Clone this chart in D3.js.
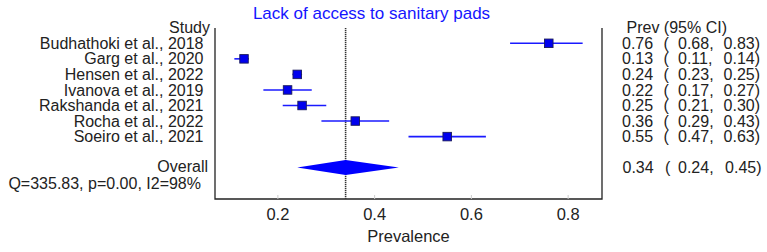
<!DOCTYPE html>
<html><head><meta charset="utf-8">
<script src="https://cdn.jsdelivr.net/npm/d3@7"></script>
<style>body{margin:0;background:#fff}svg{display:block}text{font-family:"Liberation Sans",Arial,sans-serif;font-size:16px}</style>
</head><body><svg id="c" width="767" height="252"></svg>
<script>
const studies = ["Budhathoki et al., 2018","Garg et al., 2020","Hensen et al., 2022","Ivanova et al., 2019","Rakshanda et al., 2021","Rocha et al., 2022","Soeiro et al., 2021"];
const prev  = [0.76,0.13,0.24,0.22,0.25,0.36,0.55];
const lower = [0.68,0.11,0.23,0.17,0.21,0.29,0.47];
const upper = [0.83,0.14,0.25,0.27,0.30,0.43,0.63];
const overall = {est:0.34, lo:0.24, hi:0.45};
const xTicks = [0.2,0.4,0.6,0.8];
const titleText = "Lack of access to sanitary pads";
const hetText = "Q=335.83, p=0.00, I2=98%";

const svg = d3.select("#c");
const x = d3.scaleLinear().domain([0.07,0.87]).range([215,602]);
const y = i => 43.3 + i*15.55;
const plotTop = 28, plotBottom = 199;
const f = d3.format(".2f");

// frame: left, bottom, right
svg.append("path").attr("d",`M${x.range()[0]},${plotTop}V${plotBottom}H${x.range()[1]}V${plotTop}`)
  .attr("fill","none").attr("stroke","#222").attr("stroke-width",1.3);

// ticks (faint, inward) and labels
const ax = svg.append("g");
xTicks.forEach(t=>{
  ax.append("line").attr("x1",x(t)).attr("x2",x(t)).attr("y1",plotBottom).attr("y2",plotBottom-4).attr("stroke","#ccc");
  ax.append("text").attr("x",x(t)).attr("y",219.5).attr("text-anchor","middle").attr("fill","#222").style("font-size","16.5px").text(d3.format(".1f")(t));
});
svg.append("text").attr("x",(x.range()[0]+x.range()[1])/2).attr("y",241.5).attr("text-anchor","middle").attr("fill","#222").style("font-size","16.5px").text("Prevalence");

// reference line at overall estimate
svg.append("line").attr("x1",x(overall.est)).attr("x2",x(overall.est)).attr("y1",plotTop).attr("y2",plotBottom)
  .attr("stroke","#333").attr("stroke-width",1.6).attr("stroke-dasharray","1.2,0.8");

// title
svg.append("text").attr("x",371.5).attr("y",19).attr("text-anchor","middle").attr("fill","#1515ff").style("font-size","17px").text(titleText);

// headers
svg.append("text").attr("x",210).attr("y",y(-1)).attr("dy","0.35em").attr("text-anchor","end").attr("fill","#222").text("Study");
svg.append("text").attr("x",626.5).attr("y",y(-1)).attr("dy","0.35em").attr("fill","#222").text("Prev (95% CI)");

// study rows
studies.forEach((s,i)=>{
  const yy = y(i);
  svg.append("text").attr("x",203.5).attr("y",yy).attr("dy","0.35em").attr("text-anchor","end").attr("fill","#222").text(s);
  svg.append("line").attr("x1",x(lower[i])).attr("x2",x(upper[i])).attr("y1",yy).attr("y2",yy).attr("stroke","#1a1aff").attr("stroke-width",1.6);
  const sz = 8.5;
  svg.append("rect").attr("x",x(prev[i])-sz/2).attr("y",yy-sz/2).attr("width",sz).attr("height",sz)
    .attr("fill","#0000ee").attr("stroke","#1a1a5a").attr("stroke-width",0.9);
  svg.append("text").attr("x",622).attr("y",yy).attr("dy","0.35em").attr("fill","#222").text(f(prev[i]));
  svg.append("text").attr("x",663.5).attr("y",yy).attr("dy","0.35em").attr("fill","#222").text("(");
  svg.append("text").attr("x",678).attr("y",yy).attr("dy","0.35em").attr("fill","#222").text(f(lower[i])+",");
  svg.append("text").attr("x",760).attr("y",yy).attr("dy","0.35em").attr("text-anchor","end").attr("fill","#222").text(f(upper[i])+")");
});

// overall
const yo = 167.5;
svg.append("text").attr("x",208).attr("y",166.5).attr("dy","0.35em").attr("text-anchor","end").attr("fill","#222").text("Overall");
svg.append("text").attr("x",201).attr("y",183).attr("dy","0.35em").attr("text-anchor","end").attr("fill","#222").text(hetText);
svg.append("path").attr("d",`M${x(overall.lo)},${yo}L${x(overall.est)},${yo-7.5}L${x(overall.hi)},${yo}L${x(overall.est)},${yo+7.5}Z`)
  .attr("fill","#0000ff");
svg.append("text").attr("x",622.5).attr("y",yo).attr("dy","0.35em").attr("fill","#222").text(f(overall.est));
svg.append("text").attr("x",665).attr("y",yo).attr("dy","0.35em").attr("fill","#222").text("(");
svg.append("text").attr("x",678).attr("y",yo).attr("dy","0.35em").attr("fill","#222").text(f(overall.lo)+",");
svg.append("text").attr("x",761.5).attr("y",yo).attr("dy","0.35em").attr("text-anchor","end").attr("fill","#222").text(f(overall.hi)+")");
</script></body></html>
